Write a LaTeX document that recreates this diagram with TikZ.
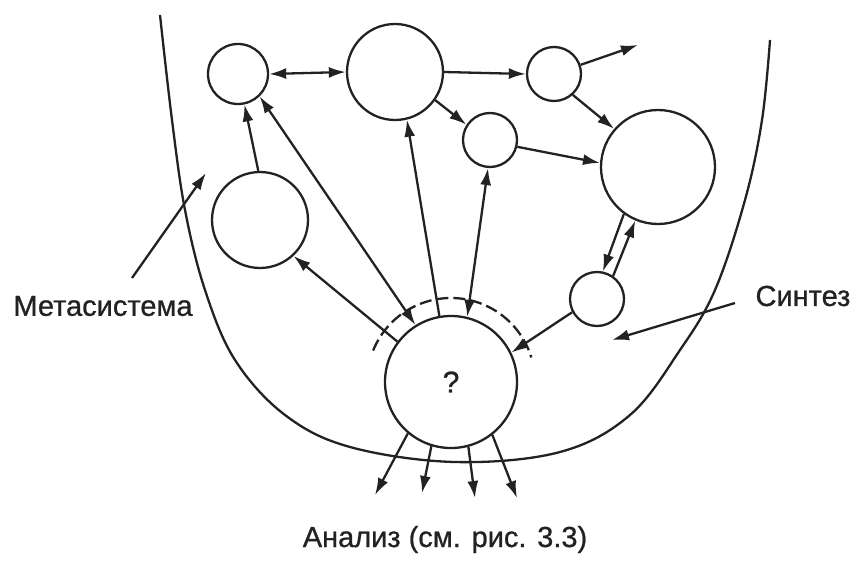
\documentclass[tikz,border=0pt]{standalone}
\usepackage{fontspec}
\setmainfont{Liberation Sans}
\usetikzlibrary{arrows.meta,calc}
\definecolor{ink}{HTML}{222222}
\begin{document}
\begin{tikzpicture}[x=1pt,y=-1pt,
  circ/.style={circle,draw=ink,inner sep=0pt,line width=2.3pt,text=ink},
  arr/.style={draw=ink,line width=2.3pt,-{Latex[length=17pt,width=11pt]}},
  darr/.style={draw=ink,line width=2.3pt,{Latex[length=17pt,width=11pt]}-{Latex[length=17pt,width=11pt]}},
  lbl/.style={text=ink,inner sep=0pt,font=\fontsize{29}{32}\selectfont\addfontfeature{FakeBold=0.8}}]
\useasboundingbox (0,0) rectangle (856,564);
% bowl
\draw[ink,line width=2.3pt] plot[smooth,tension=0.6] coordinates {(160,15) (172,120) (185,210) (205,290) (235,360) (285,415) (350,447) (455,462) (560,452) (630,415) (680,350) (715,290) (745,200) (762,120) (770,40)};
% circles
\node[circ,minimum size=60pt] (A) at (238,74) {};
\node[circ,minimum size=96pt] (B) at (395,72) {};
\node[circ,minimum size=54pt] (C) at (554,74) {};
\node[circ,minimum size=54pt] (D) at (490,140) {};
\node[circ,minimum size=114pt] (E) at (658,167) {};
\node[circ,minimum size=96pt] (F) at (260,220) {};
\node[circ,minimum size=54pt] (G) at (597,299) {};
\node[circ,minimum size=132pt,font=\fontsize{30}{32}\selectfont\addfontfeature{FakeBold=1}] (Q) at (451,382) {?};
% dashed arc
\draw[ink,line width=2.3pt,dash pattern=on 12pt off 5pt] ($(Q.center)+(158:84pt)$) arc[start angle=158,end angle=17,radius=84pt];
% coordinates
\coordinate (outC) at (638,45);
\coordinate (o1) at (375,495);
\coordinate (o2) at (422,493);
\coordinate (o3) at (475,498);
\coordinate (o4) at (517,498);
\coordinate (mS) at (132,278);
\coordinate (mT) at (206,173);
\coordinate (sS) at (735,303);
\coordinate (sT) at (612,340);
% connectors
\draw[darr] (A.east) -- (B.west);
\draw[arr] (B.east) -- (C.west);
\draw[arr] (C.19) -- (outC);
\draw[arr] (C.-48) -- (E.139);
\draw[arr] (B.-35) -- (D.147);
\draw[arr] (D.-14) -- (E.176);
\draw[arr] (F.92) -- (A.-78);
\draw[darr] (A.-46) -- (Q.122);
\draw[arr] (Q.143) -- (F.-47);
\draw[arr] (Q.100) -- (B.-76);
\draw[darr] (D.-94) -- (Q.76);
\draw[arr] (G.-152) -- (Q.26);
\draw[arr] (E.-126) -- (G.78);
\draw[arr] (G.55) -- (E.-113);
\draw[arr] (Q.-130) -- (o1);
\draw[arr] (Q.-107) -- (o2);
\draw[arr] (Q.-75) -- (o3);
\draw[arr] (Q.-52) -- (o4);
\draw[arr] (mS) -- (mT);
\draw[arr] (sS) -- (sT);
% labels
\node[lbl] (lm) at (103,306) {Метасистема};
\node[lbl] (ls) at (803,296) {Синтез};
\node[lbl,anchor=base] (la) at (445,547) {Анализ (см. рис. 3.3)};
\end{tikzpicture}
\end{document}
